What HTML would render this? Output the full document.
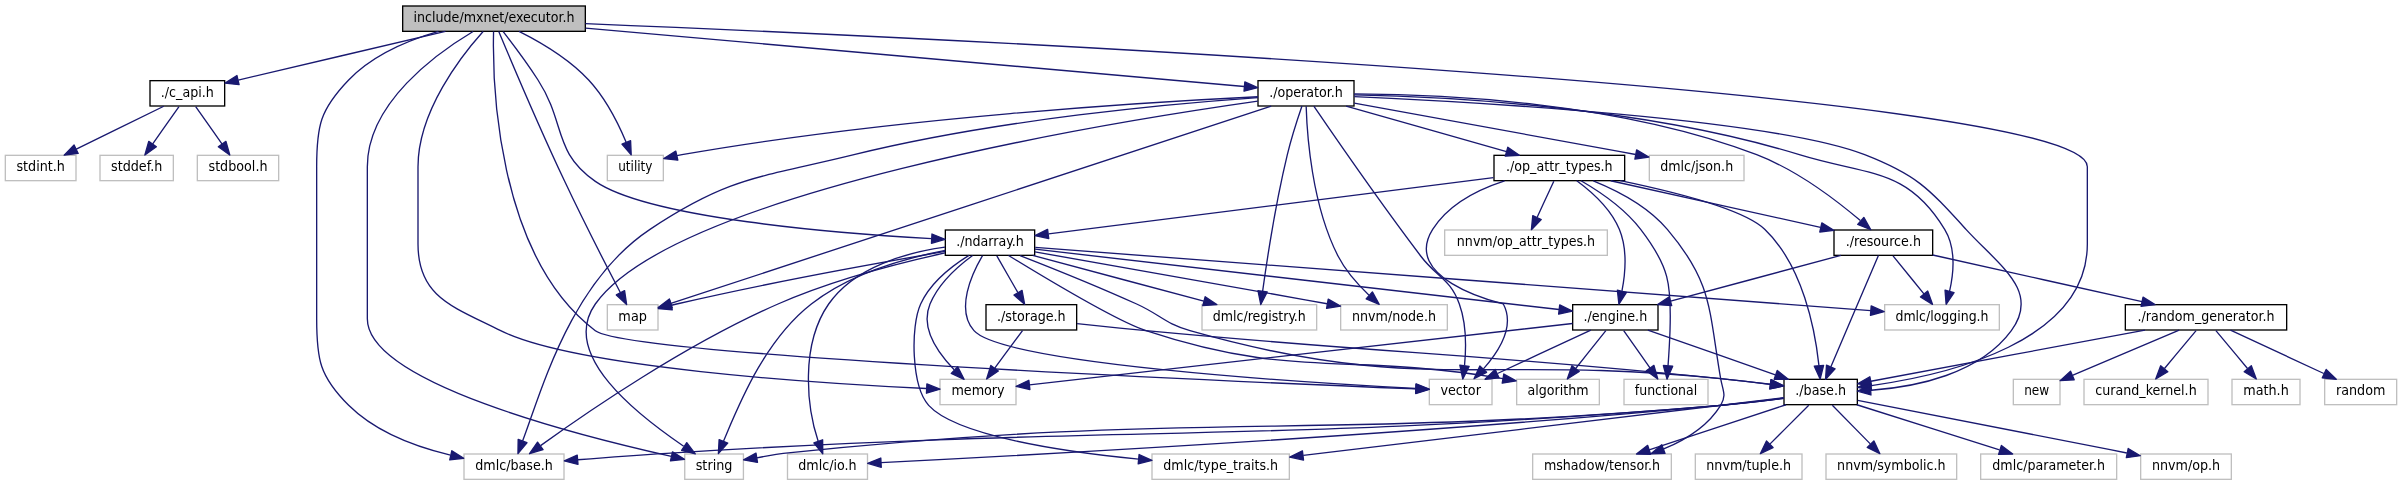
<!DOCTYPE html>
<html lang="en"><head><meta charset="utf-8"><title>include/mxnet/executor.h</title>
<style>
html,body{margin:0;padding:0;background:#fff;overflow:hidden;}
svg{display:block;will-change:transform;}
text{font-family:"DejaVu Sans Condensed","DejaVu Sans","Liberation Sans",sans-serif;font-size:10.5px;fill:#000;text-anchor:middle;}
.e path{fill:none;stroke:#191970;stroke-width:1;}
.e polygon{fill:#191970;stroke:#191970;stroke-width:1;stroke-linejoin:round;}
</style></head>
<body>
<svg width="2402" height="485" viewBox="0 0 1801.5 363.75">
<rect x="0" y="0" width="1801.5" height="363.75" fill="#fff"/>
<g transform="translate(4 360)">
<g class="n"><rect x="298" y="-355.5" width="137" height="19" fill="#bfbfbf" stroke="black" stroke-width="1"/><text x="366.5" y="-343.5" textLength="120.62" lengthAdjust="spacingAndGlyphs">include/mxnet/executor.h</text></g>
<g class="n"><rect x="344" y="-19.5" width="75" height="19" fill="white" stroke="#bfbfbf" stroke-width="1"/><text x="381.5" y="-7.5" textLength="58.16" lengthAdjust="spacingAndGlyphs">dmlc/base.h</text></g>
<g class="n"><rect x="1068" y="-75.5" width="47" height="19" fill="white" stroke="#bfbfbf" stroke-width="1"/><text x="1091.5" y="-63.75" textLength="30.41" lengthAdjust="spacingAndGlyphs">vector</text></g>
<g class="n"><rect x="701" y="-75.5" width="57" height="19" fill="white" stroke="#bfbfbf" stroke-width="1"/><text x="729.5" y="-63.75" textLength="39.92" lengthAdjust="spacingAndGlyphs">memory</text></g>
<g class="n"><rect x="451.5" y="-131.5" width="38" height="19" fill="white" stroke="#bfbfbf" stroke-width="1"/><text x="470.5" y="-119.25" textLength="21.44" lengthAdjust="spacingAndGlyphs">map</text></g>
<g class="n"><rect x="509.56" y="-19.5" width="44" height="19" fill="white" stroke="#bfbfbf" stroke-width="1"/><text x="531.56" y="-7.5" textLength="27.57" lengthAdjust="spacingAndGlyphs">string</text></g>
<g class="n"><rect x="451.5" y="-243.5" width="42" height="19" fill="white" stroke="#bfbfbf" stroke-width="1"/><text x="472.5" y="-231.75" textLength="25.77" lengthAdjust="spacingAndGlyphs">utility</text></g>
<g class="n"><rect x="1334" y="-75.5" width="55" height="19" fill="white" stroke="black" stroke-width="1"/><text x="1361.5" y="-63.75" textLength="38.14" lengthAdjust="spacingAndGlyphs">./base.h</text></g>
<g class="n"><rect x="108.5" y="-299.5" width="56" height="19" fill="white" stroke="black" stroke-width="1"/><text x="136.5" y="-287.25" textLength="39.78" lengthAdjust="spacingAndGlyphs">./c_api.h</text></g>
<g class="n"><rect x="705" y="-187.5" width="67" height="19" fill="white" stroke="black" stroke-width="1"/><text x="738.5" y="-175.5" textLength="50.78" lengthAdjust="spacingAndGlyphs">./ndarray.h</text></g>
<g class="n"><rect x="939.5" y="-299.5" width="72" height="19" fill="white" stroke="black" stroke-width="1"/><text x="975.5" y="-287.25" textLength="55.28" lengthAdjust="spacingAndGlyphs">./operator.h</text></g>
<g class="n"><rect x="586.62" y="-19.5" width="60" height="19" fill="white" stroke="#bfbfbf" stroke-width="1"/><text x="616.62" y="-7.5" textLength="43.77" lengthAdjust="spacingAndGlyphs">dmlc/io.h</text></g>
<g class="n"><rect x="860" y="-19.5" width="103" height="19" fill="white" stroke="#bfbfbf" stroke-width="1"/><text x="911.5" y="-7.5" textLength="86.09" lengthAdjust="spacingAndGlyphs">dmlc/type_traits.h</text></g>
<g class="n"><rect x="1481.5" y="-19.5" width="102" height="19" fill="white" stroke="#bfbfbf" stroke-width="1"/><text x="1532.5" y="-7.5" textLength="84.55" lengthAdjust="spacingAndGlyphs">dmlc/parameter.h</text></g>
<g class="n"><rect x="1145.5" y="-19.5" width="104" height="19" fill="white" stroke="#bfbfbf" stroke-width="1"/><text x="1197.5" y="-7.5" textLength="87.15" lengthAdjust="spacingAndGlyphs">mshadow/tensor.h</text></g>
<g class="n"><rect x="1601.5" y="-19.5" width="68" height="19" fill="white" stroke="#bfbfbf" stroke-width="1"/><text x="1635.5" y="-7.5" textLength="51.17" lengthAdjust="spacingAndGlyphs">nnvm/op.h</text></g>
<g class="n"><rect x="1267.5" y="-19.5" width="80" height="19" fill="white" stroke="#bfbfbf" stroke-width="1"/><text x="1307.5" y="-7.5" textLength="63.52" lengthAdjust="spacingAndGlyphs">nnvm/tuple.h</text></g>
<g class="n"><rect x="1365.5" y="-19.5" width="98" height="19" fill="white" stroke="#bfbfbf" stroke-width="1"/><text x="1414.5" y="-7.5" textLength="81.32" lengthAdjust="spacingAndGlyphs">nnvm/symbolic.h</text></g>
<g class="n"><rect x="0" y="-243.5" width="53" height="19" fill="white" stroke="#bfbfbf" stroke-width="1"/><text x="26.5" y="-231.75" textLength="36.38" lengthAdjust="spacingAndGlyphs">stdint.h</text></g>
<g class="n"><rect x="71" y="-243.5" width="55" height="19" fill="white" stroke="#bfbfbf" stroke-width="1"/><text x="98.5" y="-231.75" textLength="38.43" lengthAdjust="spacingAndGlyphs">stddef.h</text></g>
<g class="n"><rect x="144" y="-243.5" width="61" height="19" fill="white" stroke="#bfbfbf" stroke-width="1"/><text x="174.5" y="-231.75" textLength="44.24" lengthAdjust="spacingAndGlyphs">stdbool.h</text></g>
<g class="n"><rect x="1409.5" y="-131.5" width="86" height="19" fill="white" stroke="#bfbfbf" stroke-width="1"/><text x="1452.5" y="-119.25" textLength="69.78" lengthAdjust="spacingAndGlyphs">dmlc/logging.h</text></g>
<g class="n"><rect x="897.5" y="-131.5" width="86" height="19" fill="white" stroke="#bfbfbf" stroke-width="1"/><text x="940.5" y="-119.25" textLength="69.78" lengthAdjust="spacingAndGlyphs">dmlc/registry.h</text></g>
<g class="n"><rect x="1001.5" y="-131.5" width="80" height="19" fill="white" stroke="#bfbfbf" stroke-width="1"/><text x="1041.5" y="-119.25" textLength="62.97" lengthAdjust="spacingAndGlyphs">nnvm/node.h</text></g>
<g class="n"><rect x="1133.5" y="-75.5" width="62" height="19" fill="white" stroke="#bfbfbf" stroke-width="1"/><text x="1164.5" y="-63.75" textLength="45.78" lengthAdjust="spacingAndGlyphs">algorithm</text></g>
<g class="n"><rect x="735.5" y="-131.5" width="68" height="19" fill="white" stroke="black" stroke-width="1"/><text x="769.5" y="-119.25" textLength="51.5" lengthAdjust="spacingAndGlyphs">./storage.h</text></g>
<g class="n"><rect x="1175.5" y="-131.5" width="64" height="19" fill="white" stroke="black" stroke-width="1"/><text x="1207.5" y="-119.25" textLength="47.78" lengthAdjust="spacingAndGlyphs">./engine.h</text></g>
<g class="n"><rect x="1214" y="-75.5" width="63" height="19" fill="white" stroke="#bfbfbf" stroke-width="1"/><text x="1245.5" y="-63.75" textLength="46.77" lengthAdjust="spacingAndGlyphs">functional</text></g>
<g class="n"><rect x="1233" y="-243.5" width="71" height="19" fill="white" stroke="#bfbfbf" stroke-width="1"/><text x="1268.5" y="-231.75" textLength="54.77" lengthAdjust="spacingAndGlyphs">dmlc/json.h</text></g>
<g class="n"><rect x="1371.5" y="-187.5" width="74" height="19" fill="white" stroke="black" stroke-width="1"/><text x="1408.5" y="-175.5" textLength="56.43" lengthAdjust="spacingAndGlyphs">./resource.h</text></g>
<g class="n"><rect x="1116.5" y="-243.5" width="98" height="19" fill="white" stroke="black" stroke-width="1"/><text x="1165.5" y="-231.75" textLength="79.94" lengthAdjust="spacingAndGlyphs">./op_attr_types.h</text></g>
<g class="n"><rect x="1590" y="-131.5" width="121" height="19" fill="white" stroke="black" stroke-width="1"/><text x="1650.5" y="-119.25" textLength="102.66" lengthAdjust="spacingAndGlyphs">./random_generator.h</text></g>
<g class="n"><rect x="1739.5" y="-75.5" width="54" height="19" fill="white" stroke="#bfbfbf" stroke-width="1"/><text x="1766.5" y="-63.75" textLength="37.09" lengthAdjust="spacingAndGlyphs">random</text></g>
<g class="n"><rect x="1506" y="-75.5" width="35" height="19" fill="white" stroke="#bfbfbf" stroke-width="1"/><text x="1523.5" y="-63.75" textLength="18.77" lengthAdjust="spacingAndGlyphs">new</text></g>
<g class="n"><rect x="1559" y="-75.5" width="93" height="19" fill="white" stroke="#bfbfbf" stroke-width="1"/><text x="1605.5" y="-63.75" textLength="76.03" lengthAdjust="spacingAndGlyphs">curand_kernel.h</text></g>
<g class="n"><rect x="1670" y="-75.5" width="51" height="19" fill="white" stroke="#bfbfbf" stroke-width="1"/><text x="1695.5" y="-63.75" textLength="34.12" lengthAdjust="spacingAndGlyphs">math.h</text></g>
<g class="n"><rect x="1079.5" y="-187.5" width="122" height="19" fill="white" stroke="#bfbfbf" stroke-width="1"/><text x="1140.5" y="-175.5" textLength="103.71" lengthAdjust="spacingAndGlyphs">nnvm/op_attr_types.h</text></g>
<g class="e"><path d="M324.83,-336.43C302.29,-329.86 275.46,-318.66 257.5,-300 236.14,-277.82 233.5,-265.8 233.5,-235 233.5,-235 233.5,-235 233.5,-121 233.5,-90.2 235.71,-77.75 257.5,-56 277.99,-35.69 308.4,-24.66 333.83,-18.61"/><polygon points="334.88,-21.96 343.83,-16.32 333.31,-15.14"/></g>
<g class="e"><path d="M366.17,-336.31C365.37,-301.17 367.56,-168.8 442.5,-112 467.23,-93.26 928.01,-73.52 1057.76,-68.32"/><polygon points="1058.05,-71.81 1067.9,-67.92 1057.77,-64.82"/></g>
<g class="e"><path d="M358.33,-336.38C342.57,-318.81 309.5,-276.94 309.5,-235 309.5,-235 309.5,-235 309.5,-177 309.5,-137.08 335.85,-129.97 371.5,-112 426.77,-84.13 610.06,-72.47 690.77,-68.61"/><polygon points="691.17,-72.09 701,-68.13 690.85,-65.1"/></g>
<g class="e"><path d="M370.07,-336.42C378.39,-316.51 399.86,-265.7 419.5,-224 433.46,-194.36 450.88,-160.46 461.33,-140.44"/><polygon points="464.44,-142.05 465.97,-131.57 458.23,-138.8"/></g>
<g class="e"><path d="M350.81,-336.4C323.83,-320.31 271.5,-282.94 271.5,-235 271.5,-235 271.5,-235 271.5,-121 271.5,-72.96 431.07,-33.06 499.54,-17.73"/><polygon points="500.36,-21.14 509.38,-15.57 498.86,-14.3"/></g>
<g class="e"><path d="M385.26,-336.48C400.77,-328.71 422.58,-316.02 437.5,-300 450.17,-286.4 459.72,-267.35 465.61,-253.38"/><polygon points="468.95,-254.46 469.4,-243.88 462.45,-251.87"/></g>
<g class="e"><path d="M435.04,-342.31C688.96,-331.9 1561.5,-291.97 1561.5,-235 1561.5,-235 1561.5,-235 1561.5,-177 1561.5,-103.88 1457.6,-79.02 1399.57,-70.84"/><polygon points="1399.68,-67.32 1389.31,-69.5 1398.77,-74.26"/></g>
<g class="e"><path d="M330.06,-336.44C287.61,-326.48 217.8,-310.09 174.64,-299.95"/><polygon points="175.33,-296.52 164.8,-297.64 173.73,-303.34"/></g>
<g class="e"><path d="M373.39,-336.25C380.3,-327.34 391.09,-313.02 399.5,-300 420.57,-267.41 410.54,-246.02 442.5,-224 482.58,-196.38 622.45,-185.09 694.64,-181.02"/><polygon points="694.98,-184.5 704.78,-180.47 694.6,-177.51"/></g>
<g class="e"><path d="M435.18,-338.91C560.41,-327.81 822.78,-304.54 929.18,-295.11"/><polygon points="929.63,-298.58 939.28,-294.21 929.01,-291.61"/></g>
<g class="e"><path d="M1333.77,-61.18C1319.64,-59.36 1302.18,-57.3 1286.5,-56 936,-27.03 847,-42 496,-20 474.02,-18.65 449.67,-16.81 429.25,-15.18"/><polygon points="429.5,-11.68 419.24,-14.34 428.91,-18.66"/></g>
<g class="e"><path d="M1333.76,-61.21C1319.64,-59.4 1302.18,-57.34 1286.5,-56 974.78,-29.35 894.67,-52.44 583.5,-20 575.37,-19.15 571.7,-17.93 563.57,-16.66"/><polygon points="564.12,-13.2 553.69,-15.05 562.99,-20.11"/></g>
<g class="e"><path d="M1333.75,-61.32C1319.63,-59.54 1302.17,-57.47 1286.5,-56 1050.44,-33.85 760.32,-18.3 656.79,-13"/><polygon points="656.95,-9.5 646.78,-12.49 656.6,-16.49"/></g>
<g class="e"><path d="M1333.69,-61.66C1262.53,-53.12 1072.49,-30.32 973.46,-18.44"/><polygon points="973.64,-14.93 963.3,-17.22 972.81,-21.88"/></g>
<g class="e"><path d="M1388.6,-56.44C1417.49,-47.32 1463.42,-32.81 1495.61,-22.65"/><polygon points="1497.05,-25.87 1505.53,-19.52 1494.94,-19.19"/></g>
<g class="e"><path d="M1335.51,-56.44C1307.8,-47.32 1263.75,-32.81 1232.88,-22.65"/><polygon points="1233.96,-19.32 1223.36,-19.52 1231.77,-25.97"/></g>
<g class="e"><path d="M1389.26,-59.72C1430.88,-51.78 1512.18,-36.16 1591.13,-20.26"/><polygon points="1592.13,-23.62 1601.24,-18.22 1590.75,-16.76"/></g>
<g class="e"><path d="M1352.58,-56.08C1344.72,-48.22 1333.07,-36.57 1323.58,-27.08"/><polygon points="1325.8,-24.35 1316.25,-19.75 1320.85,-29.3"/></g>
<g class="e"><path d="M1370.25,-56.08C1377.97,-48.22 1389.4,-36.57 1398.72,-27.08"/><polygon points="1401.4,-29.34 1405.91,-19.75 1396.41,-24.44"/></g>
<g class="e"><path d="M118.83,-280.32C101.11,-271.62 73.6,-258.12 53.21,-248.11"/><polygon points="54.65,-244.92 44.13,-243.65 51.56,-251.2"/></g>
<g class="e"><path d="M130.23,-280.08C124.86,-272.46 116.98,-261.26 110.42,-251.94"/><polygon points="113.28,-249.91 104.66,-243.75 107.55,-253.94"/></g>
<g class="e"><path d="M142.77,-280.08C148.14,-272.46 156.02,-261.26 162.58,-251.94"/><polygon points="165.45,-253.94 168.34,-243.75 159.72,-249.91"/></g>
<g class="e"><path d="M704.84,-170.3C672,-163.11 621.08,-150.23 579.5,-132 510.17,-101.69 436.03,-50.77 401.43,-25.77"/><polygon points="403.29,-22.79 393.16,-19.71 399.16,-28.44"/></g>
<g class="e"><path d="M732.87,-168.22C724.83,-154.48 712.51,-127.82 726.5,-112 748.3,-87.35 971.68,-73.22 1057.85,-68.65"/><polygon points="1058.09,-72.14 1067.89,-68.13 1057.72,-65.15"/></g>
<g class="e"><path d="M725.44,-168.44C714.59,-160.47 699.93,-147.52 693.5,-132 686.22,-114.43 699.26,-95.54 711.63,-82.68"/><polygon points="714.29,-84.98 719.06,-75.52 709.44,-79.94"/></g>
<g class="e"><path d="M704.86,-171.4C659.09,-163.59 574.72,-148.51 503.5,-132 502.23,-131.71 500.94,-131.4 499.63,-131.08"/><polygon points="500.19,-127.6 489.63,-128.49 498.43,-134.38"/></g>
<g class="e"><path d="M704.99,-172.15C675.94,-166.55 634.04,-154.98 604.5,-132 568.96,-104.35 549.87,-55.68 538.68,-29.28"/><polygon points="541.81,-27.69 534.8,-19.75 535.33,-30.33"/></g>
<g class="e"><path d="M761.04,-168.35C783.43,-159.63 818.62,-145.56 848.5,-132 866.6,-123.79 869.38,-117.43 888.5,-112 1059.34,-63.44 1109.86,-94.58 1286.5,-76 1298.6,-74.73 1311.79,-73.19 1323.68,-71.76"/><polygon points="1324.24,-75.21 1333.74,-70.53 1323.39,-68.27"/></g>
<g class="e"><path d="M704.72,-174.64C676.21,-170.66 637.01,-160.07 617.5,-132 596.08,-101.18 601.09,-54.51 609.63,-29.08"/><polygon points="612.97,-30.18 613.07,-19.59 606.38,-27.81"/></g>
<g class="e"><path d="M722.72,-168.47C710.3,-160.77 693.89,-148.18 686.5,-132 678.73,-115.01 679.58,-70.23 692.5,-56 713.24,-33.17 792.66,-21.34 849.89,-15.65"/><polygon points="850.32,-19.13 859.94,-14.69 849.65,-12.16"/></g>
<g class="e"><path d="M772.46,-174.43C886.96,-165.77 1259.49,-137.6 1399.06,-127.04"/><polygon points="1399.38,-130.53 1409.09,-126.28 1398.85,-123.55"/></g>
<g class="e"><path d="M770.51,-168.44C805.23,-159.16 860.79,-144.31 898.88,-134.13"/><polygon points="899.89,-137.48 908.64,-131.52 898.08,-130.72"/></g>
<g class="e"><path d="M772.2,-171.1C819.01,-162.89 906.61,-147.47 991.34,-132.2"/><polygon points="992.17,-135.61 1001.39,-130.39 990.93,-128.72"/></g>
<g class="e"><path d="M752.4,-168.41C778.52,-152.42 834.22,-119.06 855.5,-112 966.98,-75.05 1003.83,-96.08 1123.23,-76.06"/><polygon points="1123.86,-79.5 1133.11,-74.34 1122.66,-72.6"/></g>
<g class="e"><path d="M743.62,-168.08C747.91,-160.61 754.16,-149.72 759.44,-140.52"/><polygon points="762.53,-142.17 764.48,-131.75 756.46,-138.68"/></g>
<g class="e"><path d="M772.23,-173.12C855.96,-163.48 1073.17,-138.47 1165.25,-127.86"/><polygon points="1165.79,-131.33 1175.32,-126.7 1164.99,-124.37"/></g>
<g class="e"><path d="M762.89,-112.08C757.24,-104.46 748.96,-93.26 742.05,-83.94"/><polygon points="744.75,-81.7 735.98,-75.75 739.12,-85.87"/></g>
<g class="e"><path d="M803.8,-117.24C819.54,-115.56 838.46,-113.6 855.5,-112 1046.88,-94 1095.26,-95.45 1286.5,-76 1298.61,-74.77 1311.8,-73.25 1323.69,-71.81"/><polygon points="1324.25,-75.27 1333.74,-70.57 1323.39,-68.32"/></g>
<g class="e"><path d="M1189.12,-112.44C1170.28,-103.68 1140.77,-89.94 1119.12,-79.86"/><polygon points="1120.34,-76.56 1109.79,-75.52 1117.38,-82.91"/></g>
<g class="e"><path d="M1175.39,-117.37C1090.44,-107.78 859.99,-81.74 768.09,-71.36"/><polygon points="768.43,-67.88 758.1,-70.23 767.64,-74.83"/></g>
<g class="e"><path d="M1231.9,-112.44C1257.7,-103.4 1298.58,-89.06 1327.52,-78.92"/><polygon points="1328.93,-82.13 1337.21,-75.52 1326.62,-75.52"/></g>
<g class="e"><path d="M1200.4,-112.08C1194.26,-104.38 1185.23,-93.03 1177.76,-83.65"/><polygon points="1180.44,-81.39 1171.47,-75.75 1174.96,-85.75"/></g>
<g class="e"><path d="M1213.77,-112.08C1219.14,-104.46 1227.02,-93.26 1233.58,-83.94"/><polygon points="1236.45,-85.94 1239.34,-75.75 1230.72,-81.91"/></g>
<g class="e"><path d="M939.39,-286.81C876.9,-282.45 744.88,-270.69 636.5,-244 566.19,-226.69 543.8,-228.08 483.5,-188 423.47,-148.1 401.85,-65.78 387.93,-29.2"/><polygon points="391.2,-27.97 384.47,-19.79 384.63,-30.39"/></g>
<g class="e"><path d="M981.37,-280.36C995.05,-260.34 1030.23,-209.3 1061.5,-168 1073.9,-151.62 1083.52,-151.32 1090.5,-132 1095.84,-117.22 1095.67,-99.29 1094.4,-86.01"/><polygon points="1097.83,-85.22 1093.11,-75.73 1090.88,-86.09"/></g>
<g class="e"><path d="M949.41,-280.42C863.36,-252.14 588.87,-161.91 499.16,-132.42"/><polygon points="500.23,-129.09 489.64,-129.29 498.04,-135.74"/></g>
<g class="e"><path d="M939.32,-284.12C829.16,-268.44 501.82,-215.44 442.5,-132 415.28,-93.71 475.45,-48.06 508.75,-25.33"/><polygon points="511.06,-27.99 517.47,-19.55 507.2,-22.16"/></g>
<g class="e"><path d="M939.43,-287.45C860.56,-283.64 667.08,-272.01 507.5,-244 506.25,-243.78 504.98,-243.54 503.69,-243.28"/><polygon points="504.38,-239.85 493.86,-241.05 502.84,-246.68"/></g>
<g class="e"><path d="M1011.73,-287.53C1100.18,-283.57 1324.95,-271.06 1394.5,-244 1433.6,-228.79 1442.19,-218.96 1470.5,-188 1495.47,-160.69 1526.39,-141.84 1504.5,-112 1480.61,-79.43 1433.12,-69.81 1399.44,-67.29"/><polygon points="1399.21,-63.77 1389.03,-66.7 1398.82,-70.76"/></g>
<g class="e"><path d="M1011.57,-288.79C1078.76,-287.5 1227.04,-280.36 1345.5,-244 1397.57,-228.02 1426.12,-234.49 1454.5,-188 1462.95,-174.16 1461.29,-155.39 1458.2,-141.58"/><polygon points="1461.54,-140.52 1455.59,-131.76 1454.78,-142.32"/></g>
<g class="e"><path d="M972.48,-280.47C969.39,-271.48 964.61,-256.88 961.5,-244 952.86,-208.2 946.32,-165.62 942.98,-141.71"/><polygon points="946.42,-141.02 941.6,-131.59 939.48,-141.97"/></g>
<g class="e"><path d="M975.62,-280.26C976.24,-259.58 979.78,-206.5 999.5,-168 1005.19,-156.9 1014.42,-146.57 1022.78,-138.61"/><polygon points="1025.29,-141.06 1030.38,-131.76 1020.61,-135.85"/></g>
<g class="e"><path d="M1011.68,-282.64C1058.12,-274.44 1141.44,-259.57 1222.75,-244.12"/><polygon points="1223.48,-247.54 1232.65,-242.23 1222.17,-240.66"/></g>
<g class="e"><path d="M1011.62,-289.6C1074.94,-289.48 1209.17,-284.01 1313.5,-244 1343.49,-232.5 1373.26,-209.82 1391.27,-194.54"/><polygon points="1393.88,-196.91 1399.12,-187.7 1389.28,-191.63"/></g>
<g class="e"><path d="M1005.61,-280.44C1038.13,-271.2 1090.08,-256.44 1125.89,-246.26"/><polygon points="1126.87,-249.62 1135.53,-243.52 1124.96,-242.88"/></g>
<g class="e"><path d="M1404.81,-168.37C1397.16,-150.46 1379.41,-108.92 1369.17,-84.95"/><polygon points="1372.32,-83.41 1365.17,-75.59 1365.88,-86.16"/></g>
<g class="e"><path d="M1415.77,-168.08C1422.04,-160.38 1431.29,-149.03 1438.93,-139.65"/><polygon points="1441.77,-141.71 1445.37,-131.75 1436.34,-137.29"/></g>
<g class="e"><path d="M1376.65,-168.44C1342.1,-159.16 1286.82,-144.31 1248.92,-134.13"/><polygon points="1249.77,-130.73 1239.2,-131.52 1247.95,-137.49"/></g>
<g class="e"><path d="M1445.52,-168.74C1487.58,-159.35 1556.36,-144.01 1602.51,-133.71"/><polygon points="1603.29,-137.12 1612.29,-131.53 1601.77,-130.29"/></g>
<g class="e"><path d="M1604.71,-112.44C1547.86,-101.82 1451.96,-83.9 1399.17,-74.04"/><polygon points="1399.68,-70.57 1389.21,-72.18 1398.39,-77.45"/></g>
<g class="e"><path d="M1668.88,-112.44C1687.72,-103.68 1717.23,-89.94 1738.88,-79.86"/><polygon points="1740.62,-82.91 1748.21,-75.52 1737.66,-76.56"/></g>
<g class="e"><path d="M1630.38,-112.44C1608.74,-103.24 1574.23,-88.57 1550.3,-78.4"/><polygon points="1551.65,-75.17 1541.08,-74.47 1548.91,-81.61"/></g>
<g class="e"><path d="M1643.07,-112.08C1636.65,-104.38 1627.19,-93.03 1619.38,-83.65"/><polygon points="1621.88,-81.19 1612.79,-75.75 1616.51,-85.67"/></g>
<g class="e"><path d="M1657.93,-112.08C1664.35,-104.38 1673.81,-93.03 1681.62,-83.65"/><polygon points="1684.49,-85.67 1688.21,-75.75 1679.12,-81.19"/></g>
<g class="e"><path d="M1124.45,-224.38C1104.54,-217.92 1082.41,-206.81 1070.5,-188 1046.11,-149.46 1123.39,-132.2 1123.5,-132 1132.18,-115.62 1120.25,-96.55 1108.57,-83.32"/><polygon points="1110.95,-80.74 1101.52,-75.92 1105.88,-85.57"/></g>
<g class="e"><path d="M1211.19,-224.46C1250.7,-216.24 1303.86,-202.88 1319.5,-188 1348.27,-160.63 1357.34,-112.57 1360.19,-86"/><polygon points="1363.7,-86.02 1361.1,-75.75 1356.73,-85.41"/></g>
<g class="e"><path d="M1190.97,-224.39C1208.75,-217.19 1231.83,-205.3 1246.5,-188 1280.69,-147.69 1277.48,-128.08 1286.5,-76 1288.02,-67.24 1291.16,-63.57 1286.5,-56 1276.95,-40.47 1260.19,-30.1 1243.77,-23.27"/><polygon points="1244.79,-19.92 1234.2,-19.65 1242.32,-26.46"/></g>
<g class="e"><path d="M1116.1,-226.75C1032.06,-216.12 862.6,-194.69 782.44,-184.56"/><polygon points="782.56,-181.04 772.2,-183.26 781.68,-187.99"/></g>
<g class="e"><path d="M1178.56,-224.44C1189.41,-216.47 1204.07,-203.52 1210.5,-188 1216.58,-173.32 1215.07,-155.16 1212.48,-141.76"/><polygon points="1215.85,-140.78 1210.19,-131.82 1209.03,-142.35"/></g>
<g class="e"><path d="M1181.76,-224.45C1195.35,-216.59 1214.4,-203.76 1226.5,-188 1247.91,-160.11 1249.67,-147.15 1248.5,-112 1248.21,-103.38 1247.62,-93.85 1247.03,-85.79"/><polygon points="1250.51,-85.32 1246.25,-75.62 1243.53,-85.86"/></g>
<g class="e"><path d="M1204,-224.44C1246.68,-214.96 1315.52,-199.66 1361.38,-189.47"/><polygon points="1362.37,-192.84 1371.37,-187.25 1360.85,-186"/></g>
<g class="e"><path d="M1161.37,-224.08C1157.99,-216.77 1153.08,-206.18 1148.88,-197.1"/><polygon points="1151.93,-195.36 1144.55,-187.75 1145.58,-198.3"/></g>
</g>
</svg>
</body></html>
